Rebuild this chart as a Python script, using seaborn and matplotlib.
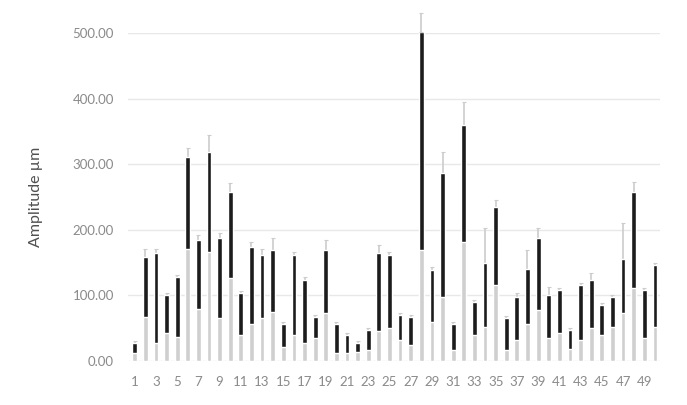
import seaborn as sns
import matplotlib.pyplot as plt
import pandas as pd
import numpy as np

# datos
pacientes = [str(i) for i in range(1, 51)]
inferior = [12, 67, 27, 42, 37, 170, 80, 166, 65, 126, 40, 57, 65, 75, 22, 40, 27, 35, 73, 12,
            12, 14, 17, 45, 50, 32, 24, 169, 60, 98, 17, 182, 40, 52, 116, 17, 32, 57, 78, 35,
            42, 19, 32, 50, 40, 52, 73, 111, 35, 52]
superior = [27, 159, 164, 100, 128, 311, 184, 319, 187, 258, 103, 174, 161, 169, 57, 161, 123, 67, 169, 57,
            40, 27, 47, 164, 161, 70, 67, 501, 138, 286, 57, 359, 90, 149, 235, 65, 98, 141, 187, 100,
            108, 47, 116, 123, 85, 98, 156, 258, 108, 146]
error = [3, 11, 6, 3, 3, 13, 8, 25, 8, 13, 3, 8, 10, 18, 3, 5, 5, 3, 15, 3,
         3, 3, 3, 13, 5, 3, 3, 30, 5, 33, 3, 36, 3, 53, 10, 3, 5, 28, 15, 13,
         3, 3, 3, 11, 3, 3, 54, 15, 3, 3]
etiquetas_y = ["0.00", "100.00", "200.00", "300.00", "400.00", "500.00"]

df = pd.DataFrame({"P": pacientes, "inferior": inferior, "superior": superior, "error": error})

sns.set_theme(style="white")
plt.rcParams['font.family'] = ['Lato', 'DejaVu Sans']

fig = plt.figure(figsize=(6.87, 4.05), dpi=100)
ax = fig.add_axes([0.186, 0.1086, 0.775, 0.81])

# barras apiladas: negra hasta el valor superior, gris encima hasta el inferior
sns.barplot(data=df, x="P", y="superior", color="#1c1c1c", saturation=1, width=0.45, ax=ax, zorder=2)
sns.barplot(data=df, x="P", y="inferior", color="#cfcfcf", saturation=1, width=0.45, ax=ax, zorder=3)
ax.errorbar(np.arange(len(df)), df["superior"], yerr=[np.zeros(len(df)), df["error"]],
            fmt="none", ecolor="#cccccc", elinewidth=1.2, capsize=1.5, capthick=0.8,
            clip_on=False, zorder=1)

ax.set_ylim(0, 500)
ax.set_xlim(-0.65, 49.5)
ax.set_yticks(np.arange(0, 501, 100))
ax.set_yticklabels(etiquetas_y)
ax.set_xticks(np.arange(0, 50, 2))
ax.set_xticklabels(pacientes[::2])
ax.yaxis.grid(True, color="#e8e8e8", linewidth=1)
ax.set_axisbelow(True)
sns.despine(ax=ax, left=True, bottom=True)
ax.tick_params(axis="both", length=0, colors="#8a8a8a", labelsize=9.5)
ax.tick_params(axis="y", pad=10)
ax.tick_params(axis="x", pad=11)
ax.set_ylabel("Amplitude µm", fontsize=11.5, color="#505050")
ax.yaxis.set_label_coords(-0.16, 0.5)
ax.set_xlabel("Patient", fontsize=11.5, color="#505050", labelpad=14)

plt.savefig("out.png", dpi=100)
plt.close()
